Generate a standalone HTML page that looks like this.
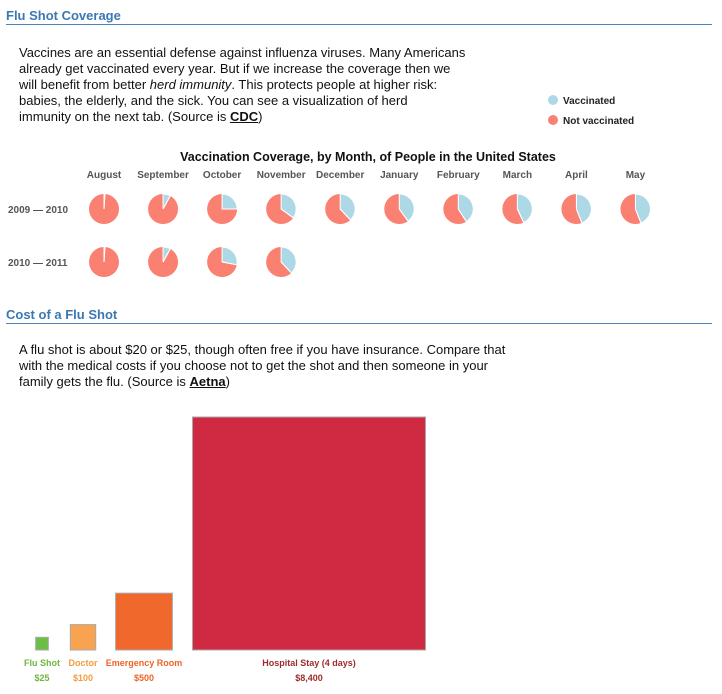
<!DOCTYPE html>
<html><head><meta charset="utf-8"><style>
body{margin:0;width:722px;height:694px;background:#fff;font-family:"Liberation Sans",sans-serif;position:relative;overflow:hidden}
.h{position:absolute;left:6px;font-size:13px;font-weight:bold;color:#3b78b3}
.rule{position:absolute;left:6px;width:706px;height:1px;background:#4a85bd}
.p{position:absolute;left:19px;font-size:13px;line-height:16px;color:#111;white-space:nowrap}
.p a{color:#111;font-weight:bold;text-decoration:underline}
svg text{font-family:"Liberation Sans",sans-serif}
</style></head><body>
<div class="h" style="top:8px">Flu Shot Coverage</div>
<div class="rule" style="top:24px"></div>
<div class="p" style="top:45px">Vaccines are an essential defense against influenza viruses. Many Americans<br>already get vaccinated every year. But if we increase the coverage then we<br>will benefit from better <i>herd immunity</i>. This protects people at higher risk:<br>babies, the elderly, and the sick. You can see a visualization of herd<br>immunity on the next tab. (Source is <a>CDC</a>)</div>
<div class="h" style="top:307px">Cost of a Flu Shot</div>
<div class="rule" style="top:323px"></div>
<div class="p" style="top:342px">A flu shot is about $20 or $25, though often free if you have insurance. Compare that<br>with the medical costs if you choose not to get the shot and then someone in your<br>family gets the flu. (Source is <a>Aetna</a>)</div>
<svg id="chart" width="722" height="694" style="position:absolute;left:0;top:0"></svg>
<script>
const months=["August","September","October","November","December","January","February","March","April","May"];
const seasons=["2009 \u2014 2010","2010 \u2014 2011"];
const vac2009=[0.01,0.08,0.25,0.35,0.38,0.40,0.41,0.43,0.44,0.44];
const vac2010=[0.01,0.08,0.28,0.38];
const costLabels=["Flu Shot","Doctor","Emergency Room","Hospital Stay (4 days)"];
const costValues=[25,100,500,8400];
const costText=["$25","$100","$500","$8,400"];
const costColors=["#6cbf45","#f7a34f","#f0682b","#cf2a42"];
const labelColors=["#6cb83e","#f39c3e","#ee6428","#9b2c2c"];
const NS="http://www.w3.org/2000/svg";
const svg=document.getElementById('chart');
function mk(t,a,p){const e=document.createElementNS(NS,t);for(const k in a)e.setAttribute(k,a[k]);(p||svg).appendChild(e);return e;}
function txt(x,y,s,a){const e=mk('text',Object.assign({x:x,y:y},a));e.textContent=s;return e;}
let t=txt(368,161,"Vaccination Coverage, by Month, of People in the United States",{'text-anchor':'middle','font-size':'12.5','font-weight':'bold',fill:'#111'});


const legend=[["Vaccinated","#add8e6"],["Not vaccinated","#fa8072"]];
legend.forEach((l,i)=>{
 const c=mk('circle',{cx:553,cy:100+i*20,r:5,fill:l[1]});
 
 
 const tt=txt(563,104+i*20,l[0],{'font-size':'10','font-weight':'bold',fill:'#222'});
 
 
});
const x0=104,dx=59.05,rowY=[209,262],R=15;
const px=i=>x0+i*dx;
months.forEach((m,i)=>{
 const e=txt(px(i),178,m,{'text-anchor':'middle','font-size':'10','font-weight':'bold',fill:'#555'});
 
 
});
seasons.forEach((s,j)=>{
 const e=txt(8,213+(rowY[j]-209),s,{'font-size':'10','font-weight':'bold',fill:'#555'});
 
 
});
function pie(cx,cy,f){
 const g=mk('g',{});
 
 
 mk('circle',{cx:cx,cy:cy,r:R,fill:'#fa8072'},g);
 const a=f*2*Math.PI, x=cx+R*Math.sin(a), y=cy-R*Math.cos(a);
 const d=`M${cx},${cy}L${cx},${cy-R}A${R},${R} 0 ${f>0.5?1:0} 1 ${x},${y}Z`;
 mk('path',{d:d,fill:'#add8e6',stroke:'#fff','stroke-width':1},g);
 mk('line',{x1:cx,y1:cy,x2:x,y2:y,stroke:'#fff','stroke-width':1},g);
}
vac2009.forEach((v,i)=>pie(px(i),rowY[0],v));
vac2010.forEach((v,i)=>pie(px(i),rowY[1],v));
const base=650,scale=233/Math.sqrt(8400);
const centers=[42,83,144,309];
costValues.forEach((v,i)=>{
 const s=Math.sqrt(v)*scale;
 const r=mk('rect',{x:centers[i]-s/2,y:base-s,width:s,height:s,fill:costColors[i],stroke:'#aaa','stroke-width':1});
 
 
 const l=txt(centers[i],666,costLabels[i],{'text-anchor':'middle','font-size':'9','font-weight':'bold',fill:labelColors[i]});
 
 
 const vv=txt(centers[i],681,costText[i],{'text-anchor':'middle','font-size':'9','font-weight':'bold',fill:labelColors[i]});
 
 
});
</script>
</body></html>
